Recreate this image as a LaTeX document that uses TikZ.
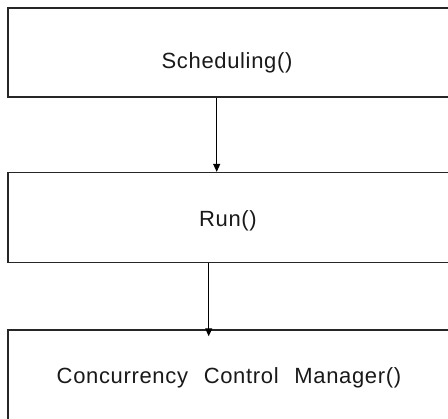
\documentclass[tikz,border=0pt]{standalone}
\usepackage{fontspec}
\setmainfont{Liberation Sans}[LetterSpace=3]
\usetikzlibrary{arrows.meta}
\begin{document}
\begin{tikzpicture}[x=1bp,y=-1bp,
  box/.style={draw=black!85, line width=1.5bp, rectangle, minimum width=452bp, inner sep=0pt},
  lbl/.style={anchor=base, inner sep=0pt, font=\fontsize{22bp}{26bp}\selectfont, text=black!90},
  arr/.style={draw=black, line width=1.1bp, -{Triangle[width=7bp,length=8bp]}}]
  \useasboundingbox (0,0) rectangle (448,418);
  \clip (0,0) rectangle (448,418);
  % three stacked boxes, running past the right and lower edges
  \node[box, minimum height=89bp] (sched) at (234,52.5) {};
  \node[box, minimum height=90bp] (run) at (234,217.6) {};
  \node[box, minimum height=110bp] (ccm) at (234,385) {};
  % labels
  \node[lbl] (tsched) at (227,68) {Scheduling()};
  \node[lbl] (trun) at (228,226) {Run()};
  \node[lbl] (tccm) at (229,383) {Concurrency\hspace{9bp} Control\hspace{9bp} Manager()};
  % connectors
  \draw[arr] ([xshift=-17.3bp]sched.south) -- ([xshift=-17.3bp]run.north);
  \draw[arr, shorten >=-7bp] ([xshift=-25.3bp]run.south) -- ([xshift=-25.3bp]ccm.north);
\end{tikzpicture}
\end{document}
